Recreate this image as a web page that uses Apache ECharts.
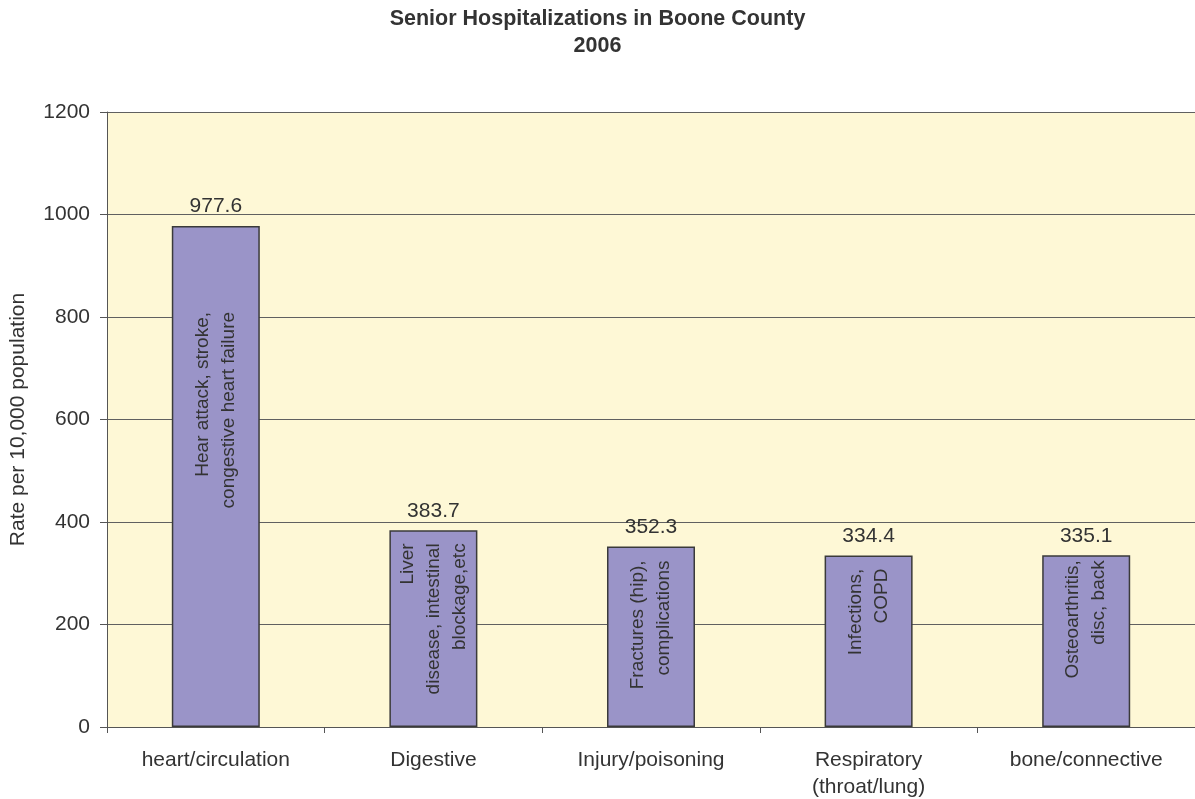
<!DOCTYPE html>
<html>
<head>
<meta charset="utf-8">
<script src="https://cdn.jsdelivr.net/npm/echarts@6/dist/echarts.min.js"></script>
<style>
  html, body { margin: 0; padding: 0; background: #ffffff; }
  #chart { width: 1195px; height: 799px; }
</style>
</head>
<body>
<div id="chart"></div>
<script>
const categories = ["heart/circulation", "Digestive", "Injury/poisoning", "Respiratory\n(throat/lung)", "bone/connective"];
const rates = [977.6, 383.7, 352.3, 334.4, 335.1];
const barNotes = [
    "Hear attack, stroke,\ncongestive heart failure",
    "Liver\ndisease, intestinal\nblockage,etc",
    "Fractures (hip),\ncomplications",
    "Infections,\nCOPD",
    "Osteoarthritis,\ndisc, back",
];
const yTicks = [0, 200, 400, 600, 800, 1000, 1200];

// gap between bar top and the rotated note inside it
const noteGap = [86, 13, 14, 13, 5];

const fontFamily = "'Liberation Sans', Arial, sans-serif";
const textColor = "#333333";

let chart = echarts.init(document.getElementById("chart"), null, { renderer: "canvas" });

chart.setOption({
    animation: false,
    textStyle: { fontFamily: fontFamily },
    title: {
        left: "center",
        top: 1,
        text: "Senior Hospitalizations in Boone County\n2006",
        textStyle: {
            fontSize: 21.5,
            fontWeight: "bold",
            color: textColor,
            lineHeight: 27,
            fontFamily: fontFamily,
        },
    },
    grid: {
        left: 107,
        right: 0,
        top: 112,
        bottom: 72,
        containLabel: false,
        outerBoundsMode: "none",
        show: true,
        backgroundColor: "#fef8d6",
        borderWidth: 0,
    },
    xAxis: {
        type: "category",
        data: categories,
        axisLine: { lineStyle: { color: "#555555", width: 1 } },
        axisTick: { show: true, length: 6, lineStyle: { color: "#555555" } },
        axisLabel: {
            color: textColor,
            fontSize: 21,
            margin: 20,
            lineHeight: 27,
            interval: 0,
        },
    },
    yAxis: {
        type: "value",
        min: yTicks[0],
        max: yTicks[yTicks.length - 1],
        interval: 200,
        name: "Rate per 10,000 population",
        nameLocation: "middle",
        nameGap: 78,
        nameTextStyle: { color: textColor, fontSize: 21 },
        axisLine: { show: true, lineStyle: { color: "#555555", width: 1 } },
        axisTick: { show: true, length: 7, lineStyle: { color: "#555555" } },
        axisLabel: {
            color: textColor,
            fontSize: 21,
            margin: 17,
            formatter: (v) => String(v),
        },
        splitLine: { show: true, lineStyle: { color: "#606060", width: 1 } },
    },
    series: [
        {
            type: "bar",
            barWidth: 88,
            itemStyle: {
                color: "#9a94c8",
                borderColor: "#3a3a3a",
                borderWidth: 1.5,
            },
            label: {
                show: true,
                position: "top",
                distance: 9,
                color: textColor,
                fontSize: 21,
                formatter: (p) => p.value.toFixed(1),
            },
            data: rates.map((v) => ({ value: v })),
            z: 2,
        },
        {
            // rotated notes inside the bars
            type: "bar",
            barWidth: 88,
            barGap: "-100%",
            itemStyle: { color: "transparent", borderWidth: 0 },
            silent: true,
            data: rates.map((v, i) => ({
                value: v,
                label: {
                    show: true,
                    position: "insideTop",
                    distance: noteGap[i],
                    rotate: 90,
                    align: "right",
                    verticalAlign: "middle",
                    color: textColor,
                    fontSize: 19,
                    lineHeight: 26,
                    formatter: barNotes[i],
                },
            })),
            z: 3,
        },
    ],
});
</script>
</body>
</html>
